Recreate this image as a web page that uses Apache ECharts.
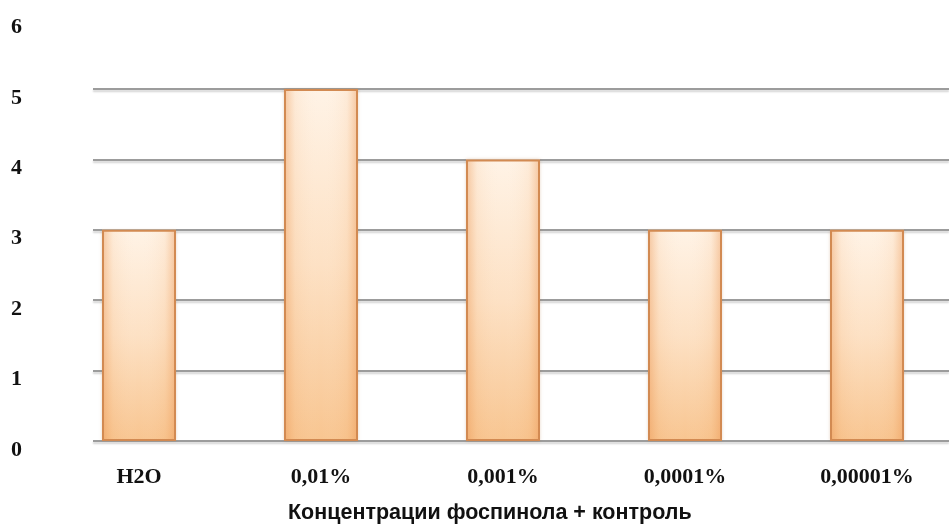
<!DOCTYPE html>
<html>
<head>
<meta charset="utf-8">
<script src="https://cdn.jsdelivr.net/npm/echarts@6/dist/echarts.min.js"></script>
<style>
  html, body { margin: 0; padding: 0; background: #ffffff; }
  #chart { width: 949px; height: 527px; }
</style>
</head>
<body>
<div id="chart"></div>
<script>
// Concentrations of phosphinol plus the water control
const categories = ['H2O', '0,01%', '0,001%', '0,0001%', '0,00001%'];
const values = [3, 5, 4, 3, 3];
const yTicks = [0, 1, 2, 3, 4, 5, 6];
const axisTitle = 'Концентрации фоспинола + контроль';

const chart = echarts.init(document.getElementById('chart'), null, { renderer: 'canvas' });

const serif = '"Liberation Serif", "Times New Roman", serif';
const sans = '"Liberation Sans", Arial, sans-serif';

// vertical body shading
const barFill = {
  type: 'linear', x: 0, y: 0, x2: 0, y2: 1,
  colorStops: [
    { offset: 0, color: '#fff3e6' },
    { offset: 0.5, color: '#fde1c4' },
    { offset: 1, color: '#f8c590' }
  ]
};
// darker rim towards the left and right edges
const barRim = {
  type: 'linear', x: 0, y: 0, x2: 1, y2: 0,
  colorStops: [
    { offset: 0, color: 'rgba(232,140,70,0.45)' },
    { offset: 0.15, color: 'rgba(240,160,90,0.10)' },
    { offset: 0.5, color: 'rgba(255,255,255,0)' },
    { offset: 0.85, color: 'rgba(240,160,90,0.10)' },
    { offset: 1, color: 'rgba(232,140,70,0.45)' }
  ]
};

chart.setOption({
  animation: false,
  title: {
    text: axisTitle,
    left: 283,
    top: 497,
    textStyle: { fontFamily: sans, fontWeight: 'bold', fontSize: 21.5, color: '#111111' }
  },
  grid: [
    // bars and their tick labels; the plot runs a little past the right edge
    { left: 48, width: 910, top: 18.6, bottom: 86, outerBoundsMode: 'none' },
    // horizontal rules, 0..5
    { left: 93, right: 0, top: 89, bottom: 86 }
  ],
  xAxis: [
    {
      type: 'category', gridIndex: 0, data: categories,
      axisLine: { show: false }, axisTick: { show: false },
      axisLabel: {
        margin: 25, color: '#111111',
        fontFamily: serif, fontWeight: 'bold', fontSize: 22
      }
    },
    {
      type: 'value', gridIndex: 1, min: 0, max: 1, show: false
    }
  ],
  yAxis: [
    {
      type: 'value', gridIndex: 0, min: yTicks[0], max: yTicks[yTicks.length - 1], interval: 1,
      axisLine: { show: false }, axisTick: { show: false }, splitLine: { show: false },
      axisLabel: {
        margin: 26, color: '#111111',
        fontFamily: serif, fontWeight: 'bold', fontSize: 22,
        lineHeight: 18, verticalAlign: 'top'
      }
    },
    {
      type: 'value', gridIndex: 1, min: 0, max: 5, interval: 1,
      axisLine: { show: false }, axisTick: { show: false }, axisLabel: { show: false },
      splitLine: {
        show: true,
        lineStyle: {
          color: '#9c9c9c', width: 2,
          shadowColor: 'rgba(0,0,0,0.18)', shadowBlur: 2, shadowOffsetY: 2
        }
      }
    }
  ],
  series: [
    {
      type: 'bar', xAxisIndex: 0, yAxisIndex: 0,
      data: values,
      barWidth: 74,
      z: 3,
      itemStyle: {
        color: barFill,
        shadowColor: 'rgba(160,90,30,0.25)',
        shadowBlur: 3
      }
    },
    {
      type: 'bar', xAxisIndex: 0, yAxisIndex: 0,
      data: values,
      barWidth: 74,
      barGap: '-100%',
      z: 4,
      silent: true,
      itemStyle: {
        color: barRim,
        borderColor: '#d28a52',
        borderWidth: 2
      }
    }
  ]
});
</script>
</body>
</html>
